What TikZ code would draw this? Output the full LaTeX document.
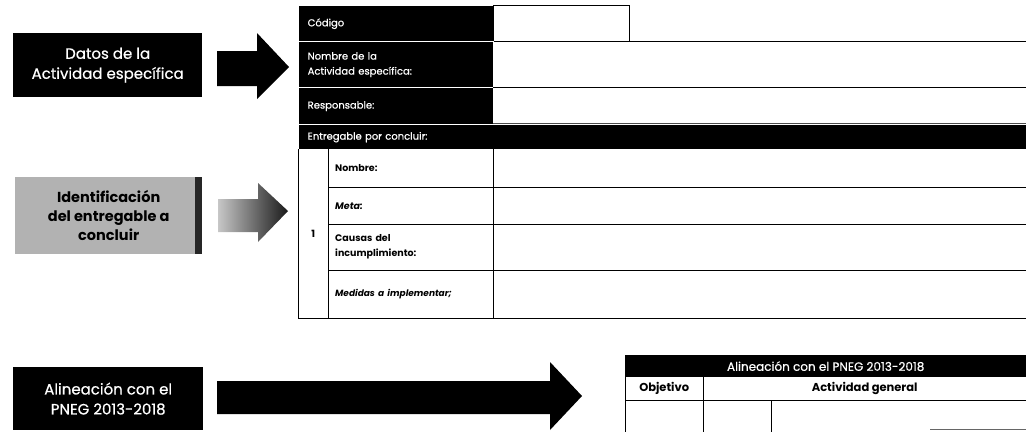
\documentclass[tikz,border=0pt]{standalone}
\usepackage{fontspec}
\setmainfont{Poppins}
\newfontfamily\popmed[FakeBold=0.6]{Poppins}
\begin{document}
\begin{tikzpicture}[x=1pt,y=-1pt,
  leftbox/.style={anchor=north west,inner sep=0pt,align=center,font=\popmed\fontsize{15}{20}\selectfont},
  darkbox/.style={leftbox,fill=black,text=white},
  blackcell/.style={anchor=north west,fill=black,draw=white,line width=1.4pt,text=white,
     inner xsep=9pt,inner ysep=0pt,align=left,font=\popmed\fontsize{10}{15}\selectfont},
  labcell/.style={anchor=north west,inner xsep=7pt,inner ysep=0pt,align=left,
     font=\fontsize{9.5}{15}\selectfont\bfseries},
  tline/.style={line width=0.8pt,black},
  blockarrow/.style={fill=black}
]
\useasboundingbox (0,0) rectangle (1026,432);

% ---------- left labels ----------
\node[darkbox,minimum width=189pt,minimum height=64pt] (datos) at (13,33)
  {Datos de la\\Actividad específica};
\node[leftbox,minimum width=187pt,minimum height=77pt,fill=black!30,
  font=\fontsize{14.5}{19}\selectfont\bfseries,
  path picture={\fill[black!85] ([xshift=-7pt]path picture bounding box.north east) rectangle (path picture bounding box.south east);}]
  (ident) at (15,177) {Identificación\\del entregable a\\concluir};
\node[darkbox,minimum width=190pt,minimum height=63pt] (alin) at (13,367)
  {Alineación con el\\PNEG 2013-2018};

% ---------- block arrows ----------
\fill[blockarrow] (217,51) -- (257,51) -- (257,33) -- (289,67) -- (257,99) -- (257,86) -- (217,86) -- cycle;
\shade[left color=black!22,right color=black!90] (218,199) -- (258,199) -- (258,183) -- (288,211) -- (258,242) -- (258,232) -- (218,232) -- cycle;
\fill[blockarrow] (217,381) -- (550,381) -- (550,362) -- (582,396) -- (550,430) -- (550,414) -- (217,414) -- cycle;

% ---------- upper table ----------
\node[blackcell,minimum width=195pt,minimum height=36pt,text width=177pt] (codL) at (298,5) {Código};
\node[anchor=north west,draw=black,line width=0.8pt,minimum width=136pt,minimum height=36pt,inner sep=0pt] (codV) at (493,5) {};
\node[blackcell,minimum width=195pt,minimum height=46pt,text width=177pt] (namL) at (298,41) {Nombre de la\\Actividad específica:};
\node[blackcell,minimum width=195pt,minimum height=37pt,text width=177pt] (resL) at (298,87) {Responsable:};
\node[blackcell,minimum width=740pt,minimum height=25pt,text width=722pt] (entL) at (298,124) {Entregable por concluir:};

\draw[tline] (629,41) -- (1026,41);
\draw[tline] (493,87) -- (1026,87);
\draw[tline,black!70] (493,123) -- (1026,123);

\node[anchor=north west,minimum width=30pt,minimum height=169pt,inner sep=0pt,
  font=\fontsize{10}{13}\selectfont\bfseries] (num) at (298,149) {1};
\node[labcell,minimum width=165pt,minimum height=38pt,text width=151pt] (nomL) at (328,149) {Nombre:};
\node[labcell,minimum width=165pt,minimum height=37pt,text width=151pt] (metL) at (328,187) {\itshape Meta:};
\node[labcell,minimum width=165pt,minimum height=46pt,text width=151pt] (cauL) at (328,224) {Causas del\\incumplimiento:};
\node[labcell,minimum width=165pt,minimum height=48pt,text width=151pt] (medL) at (328,270) {\fontsize{9}{13}\selectfont\itshape Medidas a implementar;};

\draw[tline] (298,149) -- (298,318) -- (1026,318);
\draw[tline] (328,149) -- (328,318);
\draw[tline] (493,149) -- (493,318);
\draw[tline] (328,187) -- (1026,187);
\draw[tline] (328,224) -- (1026,224);
\draw[tline] (328,270) -- (1026,270);

% ---------- lower table ----------
\node[anchor=north west,fill=black,text=white,minimum width=401pt,minimum height=22pt,inner sep=0pt,
  font=\popmed\fontsize{12}{14}\selectfont] (title) at (625,355) {Alineación con el PNEG 2013-2018};
\node[anchor=north west,minimum width=78pt,minimum height=23pt,inner sep=0pt,
  font=\fontsize{11.5}{14}\selectfont\bfseries] (obj) at (625,377) {Objetivo};
\node[anchor=north west,minimum width=323pt,minimum height=23pt,inner sep=0pt,
  font=\fontsize{11.5}{14}\selectfont\bfseries] (actg) at (703,377) {Actividad general};
\draw[tline] (625,355) -- (625,432);
\draw[tline] (703,377) -- (703,432);
\draw[tline] (771,400) -- (771,432);
\draw[tline] (625,400) -- (1026,400);
\draw[tline,black!60] (930,429) -- (1026,429);
\end{tikzpicture}
\end{document}
